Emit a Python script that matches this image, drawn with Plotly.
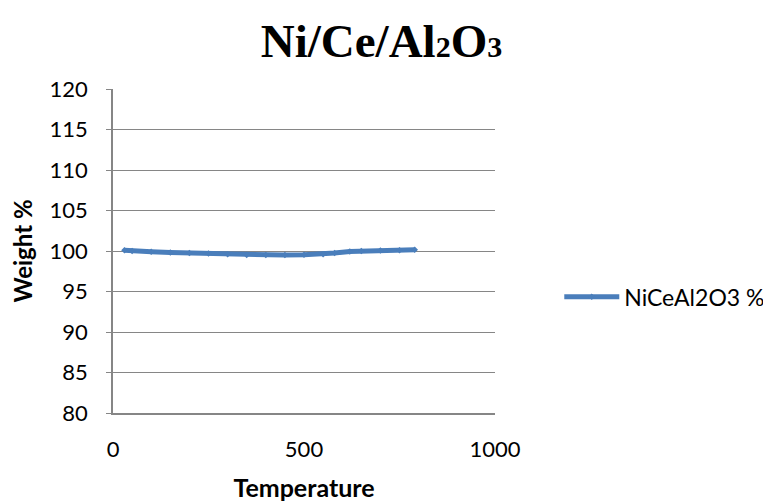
import plotly.graph_objects as go

temperature = [30, 50, 100, 150, 200, 250, 300, 350, 400, 450, 500, 550, 580, 620, 650, 700, 750, 790]
weight = [100.1, 100.0, 99.9, 99.8, 99.75, 99.7, 99.6, 99.5, 99.5, 99.5, 99.55, 99.6, 99.75, 99.95, 100.0, 100.05, 100.1, 100.15]
series_name = "NiCeAl2O3 %"
y_ticks = [80, 85, 90, 95, 100, 105, 110, 115, 120]
x_ticks = [0, 500, 1000]

fig = go.Figure()
fig.add_trace(go.Scatter(
    x=temperature, y=weight, mode="lines+markers", name=series_name,
    showlegend=True,
    line=dict(color="#4A7EBB", width=5),
    marker=dict(symbol="diamond", size=5, color="#4A7EBB"),
))

fig.update_layout(
    width=763, height=503,
    margin=dict(l=113, r=268, t=89, b=90, autoexpand=False),
    paper_bgcolor="white", plot_bgcolor="white",
    showlegend=True,
    title=dict(text="<b>Ni/Ce/Al<span style='font-size:30px'>2</span>O<span style='font-size:30px'>3</span></b>",
               font=dict(family="Liberation Serif", size=47, color="black"),
               x=0.5, xanchor="center", y=0.92, yanchor="middle"),
    font=dict(family="Lato", color="black"),
    legend=dict(xref="container", yref="container", x=0.733, xanchor="left",
                y=0.41, yanchor="middle",
                font=dict(size=23, family="Lato"), itemwidth=55,
                bgcolor="rgba(0,0,0,0)"),
    xaxis=dict(range=[0, 1000], tickvals=x_ticks, showgrid=False, zeroline=False,
               showline=True, linecolor="#868686", linewidth=1.5, automargin=False,
               ticks="", tickfont=dict(size=22), ticklabelstandoff=16,
               title=dict(text="<b>Temperature</b>", font=dict(size=25), standoff=18)),
    yaxis=dict(range=[80, 120], tickvals=y_ticks, showgrid=True, gridcolor="#868686",
               gridwidth=1, zeroline=False, showline=True, linecolor="#868686",
               linewidth=1.5, ticks="outside", ticklen=5, tickcolor="#868686",
               automargin=False,
               tickfont=dict(size=22), ticklabelstandoff=14,
               title=dict(text="<b>Weight %</b>", font=dict(size=24), standoff=10)),
)

fig.write_html("out.html")
